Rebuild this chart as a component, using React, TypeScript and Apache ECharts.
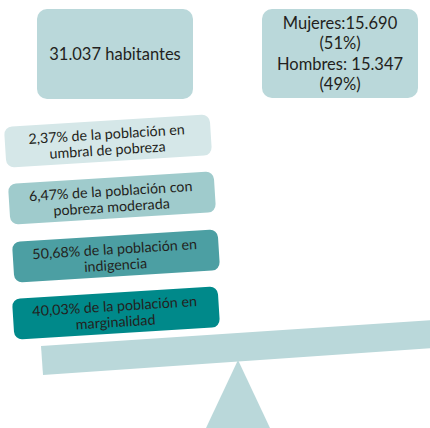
import React, { useEffect, useRef } from "react";
import * as echarts from "echarts";

const summaryTexts = ["31.037 habitantes", "Mujeres:15.690\n(51%)\nHombres: 15.347\n(49%)"];
const povertyPercents = ["2,37%", "6,47%", "50,68%", "40,03%"];
const povertyPhrases = [
  " de la población en\numbral de pobreza",
  " de la población con\npobreza moderada",
  " de la población en\nindigencia",
  " de la población en\nmarginalidad",
];
const povertyColors = ["#d5e7e8", "#9fcbcc", "#4c9fa3", "#00898a"];
const povertyCenters = [
  [108, 141],
  [112, 198],
  [116, 256],
  [116, 313],
];

const FONT = "Lato, 'Open Sans', sans-serif";
const TEXT_COLOR = "#231f20";
const BASE_COLOR = "#bad8da";

export default function App() {
  const ref = useRef<HTMLDivElement>(null);
  useEffect(() => {
    if (!ref.current) return;
    const chart = echarts.init(ref.current, null, { renderer: "svg" });
    const rot = 0.062;
    const elements: any[] = [];
    const topBoxes = [
      { x: 37, y: 9, w: 156, h: 90, lh: 21, size: 16.5 },
      { x: 262, y: 9, w: 156, h: 89, lh: 20.5, size: 16.5 },
    ];
    topBoxes.forEach((b, i) => {
      elements.push({
        type: "group",
        x: b.x,
        y: b.y,
        children: [
          { type: "rect", shape: { x: 0, y: 0, width: b.w, height: b.h, r: 10 }, style: { fill: BASE_COLOR } },
          {
            type: "text",
            x: b.w / 2,
            y: b.h / 2,
            style: {
              text: summaryTexts[i],
              fill: TEXT_COLOR,
              font: `${b.size}px ${FONT}`,
              lineHeight: b.lh,
              align: "center",
              verticalAlign: "middle",
            },
          },
        ],
      });
    });
    povertyPercents.forEach((p, i) => {
      const [cx, cy] = povertyCenters[i];
      const w = 206;
      const h = 41;
      elements.push({
        type: "group",
        x: cx,
        y: cy,
        rotation: rot,
        children: [
          { type: "rect", shape: { x: -w / 2, y: -h / 2, width: w, height: h, r: 8 }, style: { fill: povertyColors[i] } },
          {
            type: "text",
            x: -1,
            y: 0.5,
            style: {
              text: p + povertyPhrases[i],
              fill: TEXT_COLOR,
              font: `14.3px ${FONT}`,
              lineHeight: 16,
              align: "center",
              verticalAlign: "middle",
            },
          },
        ],
      });
    });
    elements.push({
      type: "polygon",
      shape: { points: [[41, 346], [440, 319.5], [440, 347.5], [43, 375]] },
      style: { fill: BASE_COLOR },
    });
    elements.push({
      type: "polygon",
      shape: { points: [[238, 360], [270, 428], [206, 428]] },
      style: { fill: BASE_COLOR },
    });
    chart.setOption({
      animation: false,
      backgroundColor: "#ffffff",
      graphic: { elements },
    });
    return () => chart.dispose();
  }, []);
  return <div ref={ref} style={{ position: "fixed", left: 0, top: 0, width: 430, height: 428 }} />;
}
